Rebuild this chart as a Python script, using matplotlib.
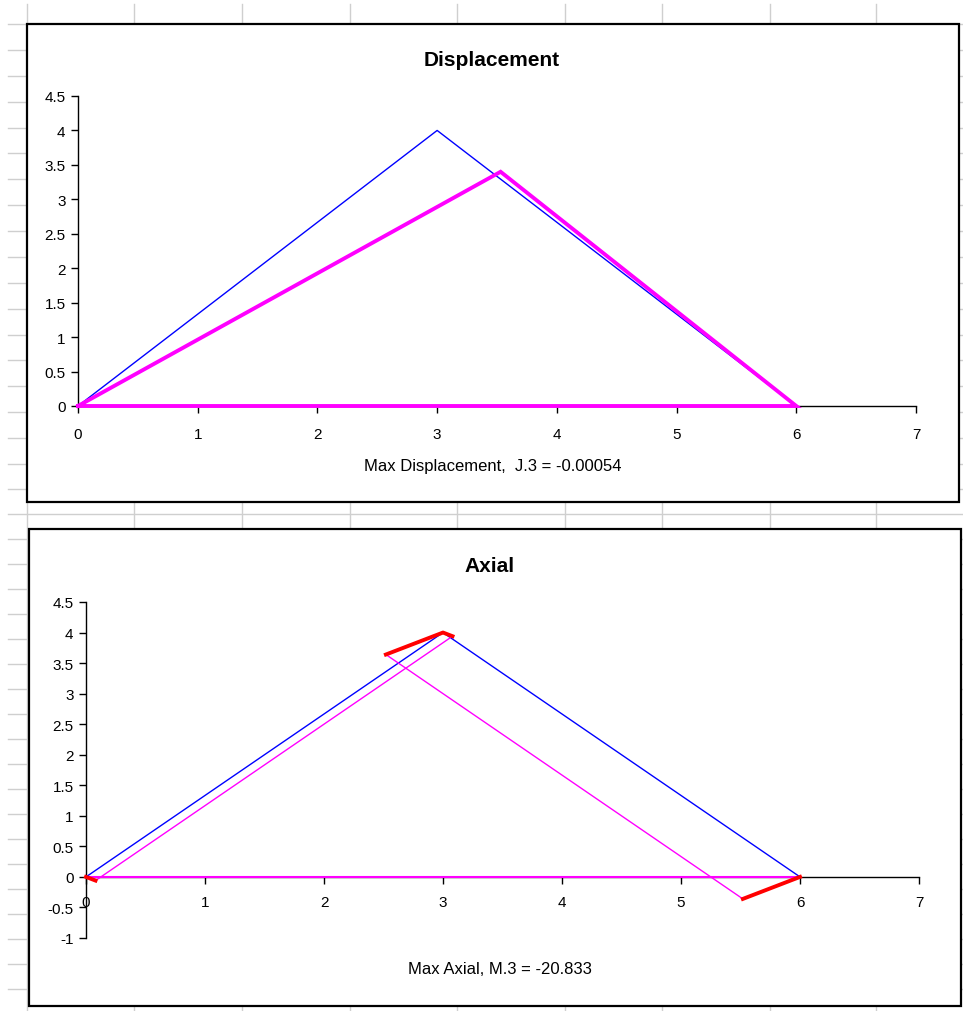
import numpy as np
import matplotlib
matplotlib.use("Agg")
import matplotlib.pyplot as plt
from matplotlib.patches import Rectangle
from matplotlib.lines import Line2D

plt.rcParams['font.family'] = ['Liberation Sans', 'DejaVu Sans']

W, H = 963, 1012

# truss geometry (blue)
truss_x = [0, 3, 6, 0]
truss_y = [0, 4, 0, 0]

# deflected shape (magenta, displacement chart)
defl_x = [0, 3.53, 6, 0]
defl_y = [0, 3.40, 0, 0]

# axial force diagram (magenta) per member
ax_m1_x = [0.08, 3.08]
ax_m1_y = [-0.06, 3.94]
ax_m2_x = [2.52, 5.52]
ax_m2_y = [3.64, -0.36]
ax_m3_x = [0, 6]
ax_m3_y = [0, 0]

# red end connectors
red_a_x = [0, 0.08]
red_a_y = [0, -0.06]
red_b_x = [2.52, 3, 3.08]
red_b_y = [3.64, 4, 3.94]
red_c_x = [6, 5.52]
red_c_y = [0, -0.36]

xticks = [0, 1, 2, 3, 4, 5, 6, 7]
yticks_top = [0, 0.5, 1, 1.5, 2, 2.5, 3, 3.5, 4, 4.5]
yticks_bot = [-1, -0.5, 0, 0.5, 1, 1.5, 2, 2.5, 3, 3.5, 4, 4.5]

fig = plt.figure(figsize=(W / 100, H / 100), dpi=100)


def fx(px):
    return px / W


def fy(py):
    return 1 - py / H


def fmt(v):
    return ('%g' % v)


# spreadsheet grid behind charts
col_x = [27, 134, 242, 350, 457, 565, 662, 770, 876]
row_y = list(np.linspace(25, 465, 18)) + list(np.arange(490, 1012, 25))
for x in col_x:
    fig.add_artist(Line2D([fx(x), fx(x)], [fy(5), fy(H)], color='#cfcfcf', lw=1, zorder=0))
for y in row_y:
    fig.add_artist(Line2D([fx(8), fx(W)], [fy(y), fy(y)], color='#cfcfcf', lw=1, zorder=0))

# chart frames
for (x0, y0, x1, y1) in [(27, 25, 959, 503), (29, 530, 961, 1007)]:
    fig.add_artist(Rectangle((fx(x0), fy(y1)), fx(x1 - x0), (y1 - y0) / H,
                             facecolor='white', edgecolor='black', lw=1.6, zorder=1))


def style_axes(ax):
    ax.set_facecolor('none')
    for s in ['top', 'right']:
        ax.spines[s].set_visible(False)
    ax.spines['left'].set_linewidth(1)
    ax.spines['bottom'].set_linewidth(1)
    ax.set_xlim(0, 7)
    ax.set_xticks(xticks)
    ax.tick_params(direction='out', length=5, width=1, labelsize=11, pad=4)


# top chart: Displacement
ax1 = fig.add_axes([fx(78), fy(407), fx(916 - 78), (407 - 97) / H])
ax1.set_zorder(2)
style_axes(ax1)
ax1.set_ylim(0, 4.5)
ax1.set_yticks(yticks_top)
ax1.set_yticklabels([fmt(v) for v in yticks_top])
ax1.plot(truss_x, truss_y, color='#0000ff', lw=1, clip_on=False, zorder=3)
ax1.plot(defl_x, defl_y, color='#ff00ff', lw=2.8, clip_on=False, zorder=3,
         solid_joinstyle='miter')
ax1.tick_params(axis='x', pad=10)

# bottom chart: Axial
ax2 = fig.add_axes([fx(86), fy(939), fx(919 - 86), (939 - 603) / H])
ax2.set_zorder(2)
style_axes(ax2)
ax2.set_ylim(-1, 4.5)
ax2.set_yticks(yticks_bot)
ax2.set_yticklabels([fmt(v) for v in yticks_bot])
ax2.spines['bottom'].set_position(('data', 0))
ax2.tick_params(axis='x', pad=8)
ax2.plot(truss_x, truss_y, color='#0000ff', lw=1, clip_on=False, zorder=3)
ax2.plot(ax_m1_x, ax_m1_y, color='#ff00ff', lw=1, clip_on=False, zorder=3)
ax2.plot(ax_m2_x, ax_m2_y, color='#ff00ff', lw=1, clip_on=False, zorder=3)
ax2.plot(ax_m3_x, ax_m3_y, color='#ff00ff', lw=1.5, clip_on=False, zorder=3)
for rx, ry in [(red_a_x, red_a_y), (red_b_x, red_b_y), (red_c_x, red_c_y)]:
    ax2.plot(rx, ry, color='#ff0000', lw=2.8, clip_on=False, zorder=4)

# titles and captions
fig.text(fx(492), fy(60), 'Displacement', ha='center', va='center',
         fontsize=15, fontweight='bold')
fig.text(fx(493), fy(466), 'Max Displacement,  J.3 = -0.00054', ha='center', va='center',
         fontsize=12)
fig.text(fx(490), fy(566), 'Axial', ha='center', va='center',
         fontsize=15, fontweight='bold')
fig.text(fx(500), fy(970), 'Max Axial, M.3 = -20.833', ha='center', va='center',
         fontsize=12)

fig.savefig('out.png', dpi=100)
